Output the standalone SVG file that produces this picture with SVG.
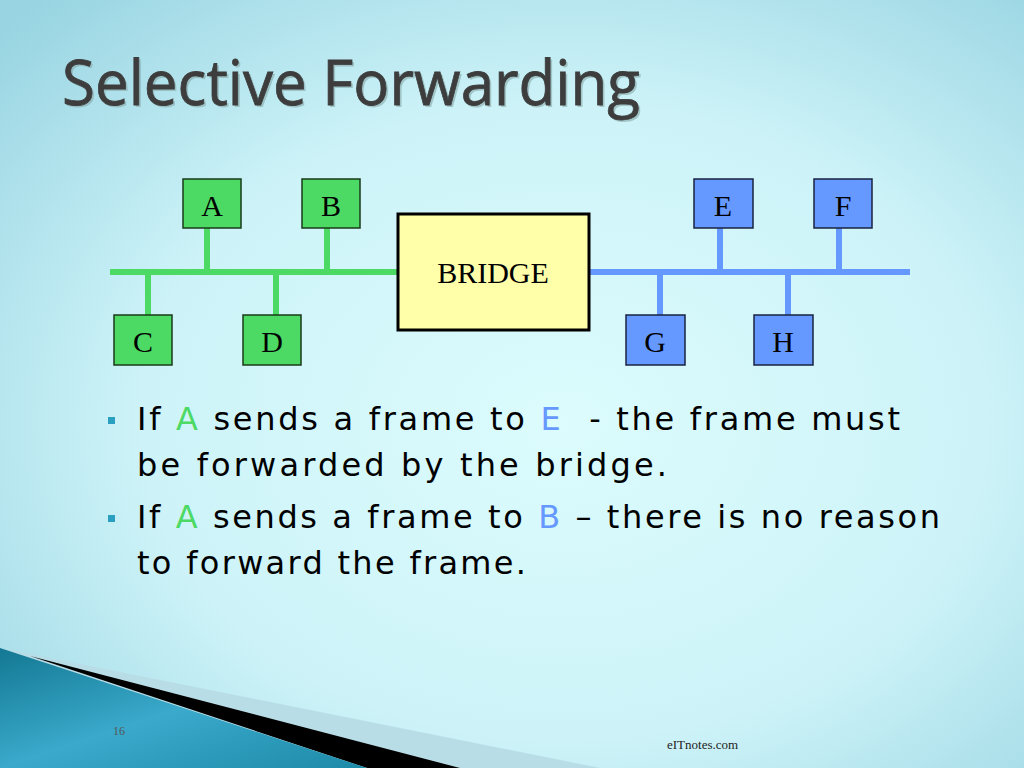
<svg xmlns="http://www.w3.org/2000/svg" width="1024" height="768" viewBox="0 0 1024 768">
<defs>
<radialGradient id="bg" cx="0.55" cy="0.55" r="0.75">
<stop offset="0" stop-color="#dcfcfd"/>
<stop offset="0.55" stop-color="#cdf3f8"/>
<stop offset="1" stop-color="#98d4e2"/>
</radialGradient>
<linearGradient id="teal" x1="0" y1="0" x2="1" y2="1">
<stop offset="0" stop-color="#137893"/>
<stop offset="0.5" stop-color="#3aa9cb"/>
<stop offset="1" stop-color="#1d8aa8"/>
</linearGradient>
<style>
.gnode rect{fill:#4cd964;stroke:#1a3a1a;stroke-width:1.5}
.bnode rect{fill:#6699ff;stroke:#1a2340;stroke-width:1.5}
.lbl{font-family:"Liberation Serif","Times New Roman",serif;font-size:30px;fill:#000;text-anchor:middle}
.gl{stroke:#4cd964;stroke-width:6;fill:none}
.bl{stroke:#6699ff;stroke-width:6;fill:none}
.body{font-family:"DejaVu Sans","Verdana",sans-serif;font-size:32px;fill:#000}
.ga{fill:#4cd964}
.bb{fill:#6699ff}
</style>
</defs>
<rect width="1024" height="768" fill="url(#bg)"/>
<polygon points="0,648 600,768 0,768" fill="#b8dde6"/>
<polygon points="30,656 460,768 367,768" fill="#000"/>
<polygon points="0,648 367,768 0,768" fill="url(#teal)"/>
<text x="113" y="735" font-family="Liberation Serif,serif" font-size="12" fill="#555">16</text>
<text x="667" y="749" font-family="Liberation Serif,serif" font-size="13" fill="#222">eITnotes.com</text>
<g id="title" font-family="Open Sans,sans-serif" font-size="62">
<text x="64" y="107" fill="#8aa" opacity="0.6" textLength="578" lengthAdjust="spacingAndGlyphs">Selective Forwarding</text>
<text x="62" y="105" fill="#3d3d3d" stroke="#3d3d3d" stroke-width="0.8" textLength="578" lengthAdjust="spacingAndGlyphs">Selective Forwarding</text>
</g>
<g id="connectors">
<line class="gl" x1="110" y1="272" x2="398" y2="272"/>
<line class="gl" x1="207" y1="228" x2="207" y2="272"/>
<line class="gl" x1="327" y1="228" x2="327" y2="272"/>
<line class="gl" x1="148" y1="272" x2="148" y2="315"/>
<line class="gl" x1="276" y1="272" x2="276" y2="315"/>
<line class="bl" x1="590" y1="272" x2="910" y2="272"/>
<line class="bl" x1="720" y1="228" x2="720" y2="272"/>
<line class="bl" x1="839" y1="228" x2="839" y2="272"/>
<line class="bl" x1="660" y1="272" x2="660" y2="315"/>
<line class="bl" x1="788" y1="272" x2="788" y2="315"/>
</g>
<g id="nodeA" class="gnode"><rect x="183" y="179" width="58" height="49"/><text class="lbl" x="212" y="216">A</text></g>
<g id="nodeB" class="gnode"><rect x="302" y="179" width="58" height="49"/><text class="lbl" x="331" y="216">B</text></g>
<g id="nodeC" class="gnode"><rect x="114" y="315" width="58" height="50"/><text class="lbl" x="143" y="352">C</text></g>
<g id="nodeD" class="gnode"><rect x="243" y="315" width="58" height="50"/><text class="lbl" x="272" y="352">D</text></g>
<g id="nodeE" class="bnode"><rect x="694" y="179" width="59" height="49"/><text class="lbl" x="723" y="216">E</text></g>
<g id="nodeF" class="bnode"><rect x="814" y="179" width="58" height="49"/><text class="lbl" x="843" y="216">F</text></g>
<g id="nodeG" class="bnode"><rect x="626" y="315" width="59" height="50"/><text class="lbl" x="655" y="352">G</text></g>
<g id="nodeH" class="bnode"><rect x="754" y="315" width="59" height="50"/><text class="lbl" x="783" y="352">H</text></g>
<g id="bridge"><rect x="398" y="214" width="191" height="116" fill="#ffffaa" stroke="#000" stroke-width="3"/><text class="lbl" x="493" y="283" font-size="28">BRIDGE</text></g>
<g id="bullets">
<rect x="108" y="417" width="7" height="7" fill="#2a9fc0"/>
<rect x="108" y="515" width="7" height="7" fill="#2a9fc0"/>
<text class="body" x="137" y="430" xml:space="preserve" textLength="763" lengthAdjust="spacing">If <tspan class="ga">A</tspan> sends a frame to <tspan class="bb">E</tspan>  - the frame must</text>
<text class="body" x="137" y="476" textLength="530" lengthAdjust="spacing">be forwarded by the bridge.</text>
<text class="body" x="137" y="528" textLength="803" lengthAdjust="spacing">If <tspan class="ga">A</tspan> sends a frame to <tspan class="bb">B</tspan> – there is no reason</text>
<text class="body" x="137" y="574" textLength="389" lengthAdjust="spacing">to forward the frame.</text>
</g>
</svg>
